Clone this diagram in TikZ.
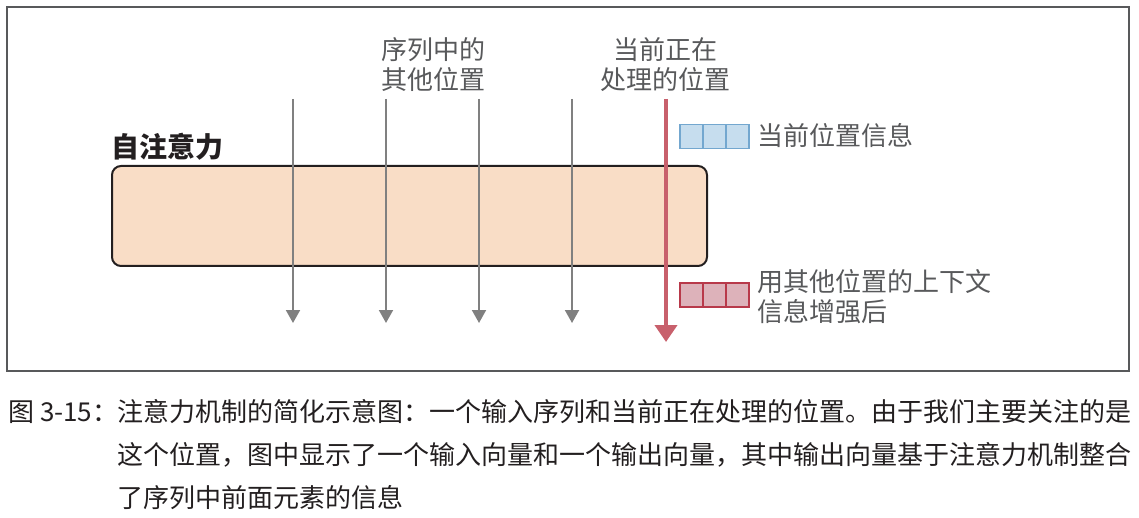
\documentclass[tikz,border=0pt]{standalone}
\usepackage{xcolor}
\usepackage{fontspec}
\setmainfont{Noto Sans CJK SC}
\usetikzlibrary{arrows.meta}

\definecolor{peach}{HTML}{F9DDC6}
\definecolor{boxline}{HTML}{231F20}
\definecolor{seqgray}{HTML}{808080}
\definecolor{labelgray}{HTML}{58595B}
\definecolor{curred}{HTML}{C8606C}
\definecolor{outfill}{HTML}{DDB2BA}
\definecolor{outline}{HTML}{B8394A}
\definecolor{infill}{HTML}{C6DDEE}
\definecolor{inline}{HTML}{73A7CF}

\tikzset{
  label text/.style={text=labelgray,inner sep=0pt,font=\fontsize{26}{30}\selectfont},
  caption text/.style={text=boxline,inner sep=0pt,anchor=west,font=\fontsize{26}{30}\selectfont},
  seq arrow/.style={draw=seqgray,line width=2pt,-{Triangle[width=14pt,length=13pt]}},
  cur arrow/.style={draw=curred,line width=4pt,-{Triangle[width=22pt,length=17pt]}},
  cell/.style={rectangle,minimum width=23pt,minimum height=24pt,inner sep=0pt,line width=1.5pt}
}

\begin{document}
\begin{tikzpicture}[x=1pt,y=-1pt]
\useasboundingbox (0,0) rectangle (1139,518);
\draw[draw=labelgray,line width=1.5pt] (7,7) rectangle (1129,371);

\node at (409.5,216) [rectangle,draw=boxline,fill=peach,line width=2pt,rounded corners=9pt,minimum width=595pt,minimum height=100pt] (sa) {};
\node at (111,147) [anchor=west,inner sep=0pt,text=boxline,font=\fontsize{28}{30}\selectfont\bfseries] (satitle) {自注意力};

\node at (433,65) [label text,align=center] (other) {序列中的\\其他位置};
\node at (665,65) [label text,align=center] (current) {当前正在\\处理的位置};

% sequence positions
\foreach \x [count=\i] in {293,386,479,572} {
  \coordinate (in\i) at (\x,99);
  \coordinate (out\i) at (\x,323);
  \draw[seq arrow] (in\i) -- (out\i);
}

% position being processed
\coordinate (curin) at (666,99);
\coordinate (curout) at (666,342);
\draw[cur arrow] (curin) -- (curout);

% input and output vectors
\foreach \i in {0,1,2} {
  \node at (691.5+23*\i,136.5) [cell,draw=inline,fill=infill] (inc\i) {};
  \node at (691.5+23*\i,295) [cell,draw=outline,fill=outfill] (outc\i) {};
}
\node at (757,136) [label text,anchor=west] (inlabel) {当前位置信息};
\node at (757,297) [label text,anchor=west,align=left] (outlabel) {用其他位置的上下文\\信息增强后};

\node at (8,412) [caption text] (capnum) {图 3-15：};
\node at (117,412) [caption text] (cap1) {注意力机制的简化示意图：一个输入序列和当前正在处理的位置。由于我们主要关注的是};
\node at (117,455) [caption text] (cap2) {这个位置，图中显示了一个输入向量和一个输出向量，其中输出向量基于注意力机制整合};
\node at (117,498) [caption text] (cap3) {了序列中前面元素的信息};
\end{tikzpicture}
\end{document}
